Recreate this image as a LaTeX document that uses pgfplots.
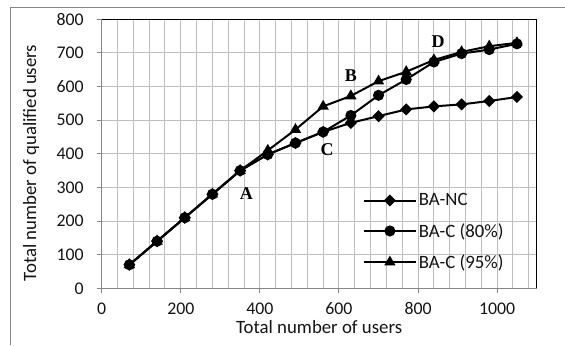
\documentclass[border=0pt]{standalone}
\usepackage{pgfplots}
\pgfplotsset{compat=1.18}
\usepackage{fontspec}
\setmainfont{Carlito}
\newfontfamily\tnr{Liberation Serif}
\definecolor{gridc}{RGB}{190,190,190}
\definecolor{axc}{RGB}{134,134,134}
\definecolor{txt}{RGB}{20,20,20}
\begin{document}
\begin{tikzpicture}[x=1bp,y=1bp]
\useasboundingbox (0,0) rectangle (565,345);
\draw[axc, line width=1bp] (10,0) -- (10,337.5) -- (565,337.5);
\node[rotate=90, font=\fontsize{18.8bp}{20bp}\selectfont, text=txt] at (31,182) {Total number of qualified users};
\begin{axis}[
  at={(101.7bp,56.7bp)}, anchor=south west,
  width=435bp, height=269bp, scale only axis,
  xmin=0, xmax=1100, ymin=0, ymax=800,
  xtick={0,200,...,1000}, ytick={0,100,...,800},
  minor xtick={40,80,...,1080},
  grid=both,
  major grid style={gridc, line width=1bp},
  minor grid style={gridc, line width=1bp},
  tick pos=left, tick align=outside,
  major tick length=5bp, minor tick length=0bp,
  axis line style={axc, line width=1bp},
  tick style={axc, line width=1bp},
  /pgf/number format/assume math mode=true,
  /pgf/number format/1000 sep={},
  ticklabel style={font=\fontsize{17.8bp}{20bp}\selectfont, text=txt},
  xticklabel style={inner sep=0pt, yshift=-9bp},
  yticklabel style={xshift=-9.5bp},
  xlabel={Total number of users},
  xlabel style={font=\fontsize{18.8bp}{20bp}\selectfont, text=txt, inner sep=0pt, at={(rel axis cs:0.5,0)}, anchor=base, yshift=-45bp},
  legend cell align=left,
  legend style={draw=none, fill=none, at={(rel axis cs:0.6,0.36)}, anchor=north west,
    font=\fontsize{18.8bp}{20bp}\selectfont, text=txt, inner sep=0pt, row sep=12bp,
    /tikz/every even column/.append style={column sep=4bp}},
  legend image code/.code={\draw[mark repeat=2,mark phase=2,#1] plot coordinates {(0bp,0bp) (26bp,0bp) (52bp,0bp)};},
  clip=false,
]
\addplot[black, line width=2bp, mark=square*, mark size=3.3bp, mark options={rotate=45, fill=black, solid}] coordinates {
(70,70) (140,140) (210,210) (280,280) (350,350) (420,398) (490,432) (560,465)
(630,492) (700,512) (770,532) (840,541) (910,547) (980,557) (1050,569)};
\addlegendentry{BA-NC}
\addplot[black, line width=2bp, mark=*, mark size=4.5bp, mark options={fill=black, solid}] coordinates {
(70,70) (140,140) (210,210) (280,280) (350,350) (420,398) (490,432) (560,465)
(630,514) (700,574) (770,621) (840,673) (910,698) (980,710) (1050,727)};
\addlegendentry{BA-C (80\%)}
\addplot[black, line width=2bp, mark=triangle*, mark size=4.6bp, mark options={fill=black, solid}] coordinates {
(70,70) (140,140) (210,210) (280,280) (350,350) (420,410) (490,472) (560,541)
(630,572) (700,616) (770,644) (840,679) (910,703) (980,720) (1050,730)};
\addlegendentry{BA-C (95\%)}
\draw[black, line width=1.2bp] (rel axis cs:0,1) -- (rel axis cs:1,1) -- (rel axis cs:1,0);
\node[font=\tnr\bfseries\fontsize{18bp}{20bp}\selectfont] at (axis cs:366,281) {A};
\node[font=\tnr\bfseries\fontsize{18bp}{20bp}\selectfont] at (axis cs:630,631) {B};
\node[font=\tnr\bfseries\fontsize{18bp}{20bp}\selectfont] at (axis cs:570,412) {C};
\node[font=\tnr\bfseries\fontsize{18bp}{20bp}\selectfont] at (axis cs:851,733) {D};
\end{axis}
\end{tikzpicture}
\end{document}
